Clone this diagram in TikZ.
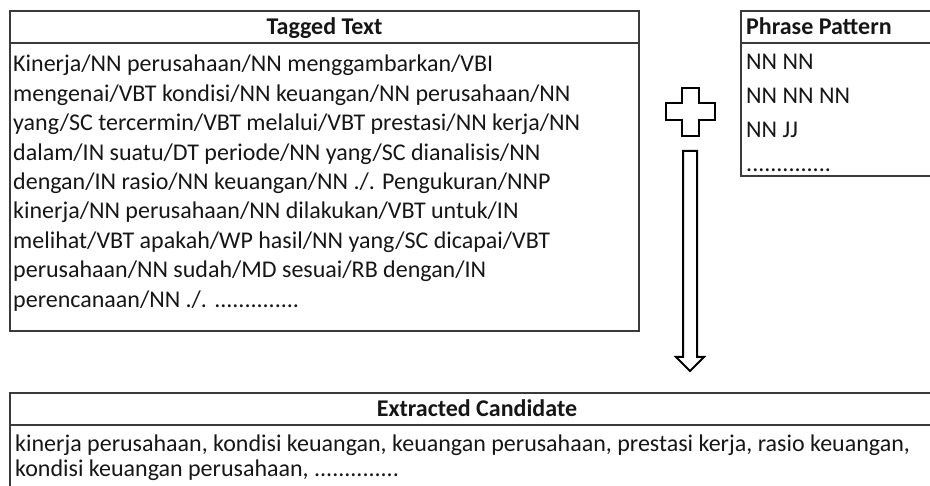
\documentclass[tikz,border=0pt]{standalone}
\usepackage{fontspec}
\setmainfont{Carlito}
\usepackage{xcolor}
\usepackage{tikz}
\usetikzlibrary{positioning,calc}
\definecolor{tgedge}{RGB}{58,58,58}
\definecolor{tgink}{RGB}{22,22,22}
\newcommand{\tgdots}{..............}
\tikzset{
  tgbox/.style={draw=tgedge, line width=1.5pt},
  hdr/.style={font=\fontsize{24}{29}\selectfont\bfseries, text=tgink, inner sep=0pt},
  txt/.style={font=\fontsize{24}{29}\selectfont, text=tgink, inner sep=0pt, anchor=base west},
  hollow/.style={draw=black, line width=2pt, fill=white, line join=miter}
}
\begin{document}
\begin{tikzpicture}[x=1pt,y=1pt]
  \useasboundingbox (0,0) rectangle (930,486);
  % tagged text, left
  \draw[tgbox] (10,475) rectangle (639,155);
  \draw[tgbox] (10,443) -- (639,443);
  \node[hdr, anchor=base] (tagHead) at (324.5,451) {Tagged Text};
  \foreach \ln [count=\i] in {
      {Kinerja/NN perusahaan/NN menggambarkan/VBI},
      {mengenai/VBT kondisi/NN keuangan/NN perusahaan/NN},
      {yang/SC tercermin/VBT melalui/VBT prestasi/NN kerja/NN},
      {dalam/IN suatu/DT periode/NN yang/SC dianalisis/NN},
      {dengan/IN rasio/NN keuangan/NN ./. Pengukuran/NNP},
      {kinerja/NN perusahaan/NN dilakukan/VBT untuk/IN},
      {melihat/VBT apakah/WP hasil/NN yang/SC dicapai/VBT},
      {perusahaan/NN sudah/MD sesuai/RB dengan/IN},
      {perencanaan/NN ./. \tgdots}}
    \node[txt] (tag\i) at (13,{414-(\i-1)*29.4}) {\ln};

  % phrase patterns, right (runs off the page)
  \draw[tgbox] (741,475) rectangle (950,310);
  \draw[tgbox] (741,443) -- (950,443);
  \node[hdr, anchor=base west] (patHead) at (746,451) {Phrase Pattern};
  \node[txt] (pat1) at (746,416) {NN NN};
  \node[txt] (pat2) at (746,382) {NN NN NN};
  \node[txt] (pat3) at (746,348) {NN JJ};
  \node[txt] (pat4) at (746,314) {\tgdots};

  % plus sign and hollow arrow
  \coordinate (plus) at (690.5,374);
  \draw[hollow] ($(plus)+(-8.5,24)$) -- ++(17,0) -- ++(0,-15.5) -- ++(16,0)
    -- ++(0,-17) -- ++(-16,0) -- ++(0,-15.5) -- ++(-17,0) -- ++(0,15.5)
    -- ++(-16,0) -- ++(0,17) -- ++(16,0) -- cycle;
  \coordinate (arrTop) at ($(plus)+(-0.5,-39)$);
  \coordinate (arrTip) at (690,115);
  \draw[hollow] ($(arrTop)+(-7,0)$) -- ($(arrTip)+(-7,14)$) -- ($(arrTip)+(-14,14)$)
    -- (arrTip) -- ($(arrTip)+(14,14)$) -- ($(arrTip)+(7,14)$)
    -- ($(arrTop)+(7,0)$) -- cycle;

  % extracted candidates, bottom (runs off the page)
  \draw[tgbox] (10,-20) -- (10,93) -- (944,93) -- (944,-20);
  \draw[tgbox] (10,61) -- (944,61);
  \node[hdr, anchor=base] (candHead) at (477,69) {Extracted Candidate};
  \node[txt] (cand1) at (15,34)
    {kinerja perusahaan, kondisi keuangan, keuangan perusahaan, prestasi kerja, rasio keuangan,};
  \node[txt] (cand2) at (15,9) {kondisi keuangan perusahaan, \tgdots};
\end{tikzpicture}
\end{document}
